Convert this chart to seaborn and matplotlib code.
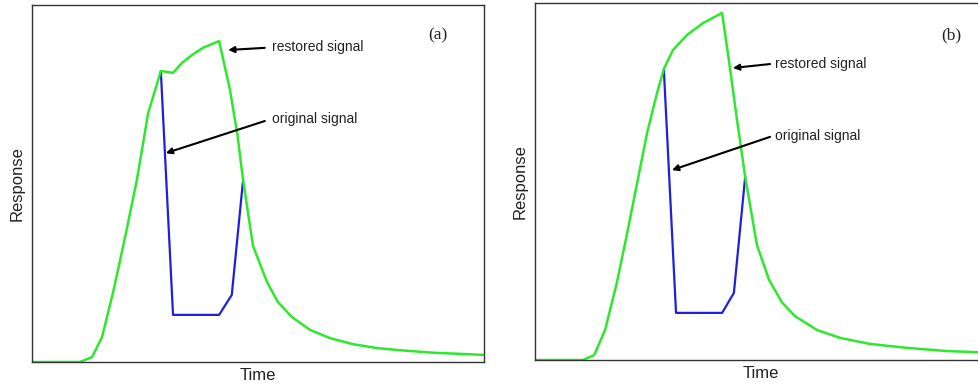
import matplotlib
matplotlib.use("Agg")
import matplotlib.pyplot as plt
import seaborn as sns
import pandas as pd

sns.set_theme(style="white")
plt.rcParams['font.family'] = ['Liberation Sans', 'DejaVu Sans']

# Panel (a)
a_green_t = [0, 10.6, 13.3, 15.5, 17.9, 20.6, 23.2, 25.7, 28.5, 31.2, 33.2, 35.4, 37.8, 41.4,
             43.8, 45.4, 46.7, 48.9, 52.0, 54.4, 57.5, 61.5, 65.9, 71.0, 76.3, 81.4, 88.7, 99.8]
a_green_y = [0, 0, 1.4, 7.0, 19.3, 35.0, 51.0, 69.7, 81.5, 81.0, 83.8, 86.0, 88.0, 89.9,
             76.2, 64.1, 51.0, 32.5, 22.4, 16.8, 12.6, 9.0, 6.7, 5.0, 3.9, 3.3, 2.6, 2.0]
a_blue_t = [28.5, 31.2, 41.4, 44.2, 46.7]
a_blue_y = [81.5, 13.2, 13.2, 18.8, 51.0]

# Panel (b)
b_green_t = [0, 10.6, 13.1, 15.5, 18.1, 20.4, 22.6, 24.8, 27.0, 28.5, 30.5, 33.6, 37.2, 41.4,
             43.1, 44.7, 46.5, 49.1, 51.8, 54.6, 57.5, 62.4, 67.5, 74.1, 82.3, 91.2, 99.8]
b_green_y = [0, 0, 1.4, 8.4, 21.6, 35.6, 49.6, 63.6, 74.8, 81.5, 86.8, 91.0, 94.4, 97.2,
             82.1, 67.2, 51.3, 32.2, 22.4, 16.2, 12.3, 8.4, 6.2, 4.5, 3.4, 2.5, 2.1]
b_blue_t = [28.5, 31.2, 41.4, 44.0, 46.5]
b_blue_y = [81.5, 13.2, 13.2, 18.8, 51.3]

GREEN = "#2ee82e"
BLUE = "#1f1fe0"

fig = plt.figure(figsize=(9.79, 3.88), dpi=100)
ax_a = fig.add_axes([32/979, 1-362/388, 452/979, 357/388])
ax_b = fig.add_axes([535/979, 1-360/388, 452/979, 357/388])

panels = [
    (ax_a, a_green_t, a_green_y, a_blue_t, a_blue_y, "(a)", (89.8, 91.6),
     ((43.4, 87.4), (51.5, 88.0), (53.1, 88.2)),
     ((29.6, 58.5), (51.5, 67.5), (53.1, 68.1))),
    (ax_b, b_green_t, b_green_y, b_blue_t, b_blue_y, "(b)", (92.0, 91.0),
     ((43.8, 81.8), (52.0, 82.9), (53.1, 82.9)),
     ((30.3, 53.2), (52.0, 62.5), (53.1, 62.7))),
]

for ax, gt, gy, bt, by, lab, labpos, rest, orig in panels:
    dg = pd.DataFrame({"t": gt, "y": gy})
    db = pd.DataFrame({"t": bt, "y": by})
    sns.lineplot(data=db, x="t", y="y", ax=ax, color=BLUE, lw=1.6, sort=False)
    sns.lineplot(data=dg, x="t", y="y", ax=ax, color=GREEN, lw=1.8, sort=False)
    ax.set_xlim(0, 100)
    ax.set_ylim(0, 100)
    ax.set_xticks([])
    ax.set_yticks([])
    ax.set_xlabel("Time", fontsize=12, labelpad=4, color="#222222")
    ax.set_ylabel("Response", fontsize=12, labelpad=5, color="#222222")
    for s in ax.spines.values():
        s.set_color("#333333")
        s.set_linewidth(1.0)
    ax.text(labpos[0], labpos[1], lab, fontsize=12.5, family="Liberation Serif",
            ha="center", va="center", color="#222222")
    for (tip, tail, txt), label in [(rest, "restored signal"), (orig, "original signal")]:
        ax.annotate("", xy=tip, xytext=tail,
                    arrowprops=dict(arrowstyle="-|>", color="black", lw=1.5,
                                    mutation_scale=9, shrinkA=0, shrinkB=0))
        ax.text(txt[0], txt[1], label, fontsize=10, ha="left", va="center",
                color="#222222")

fig.savefig("out.png", dpi=100)
